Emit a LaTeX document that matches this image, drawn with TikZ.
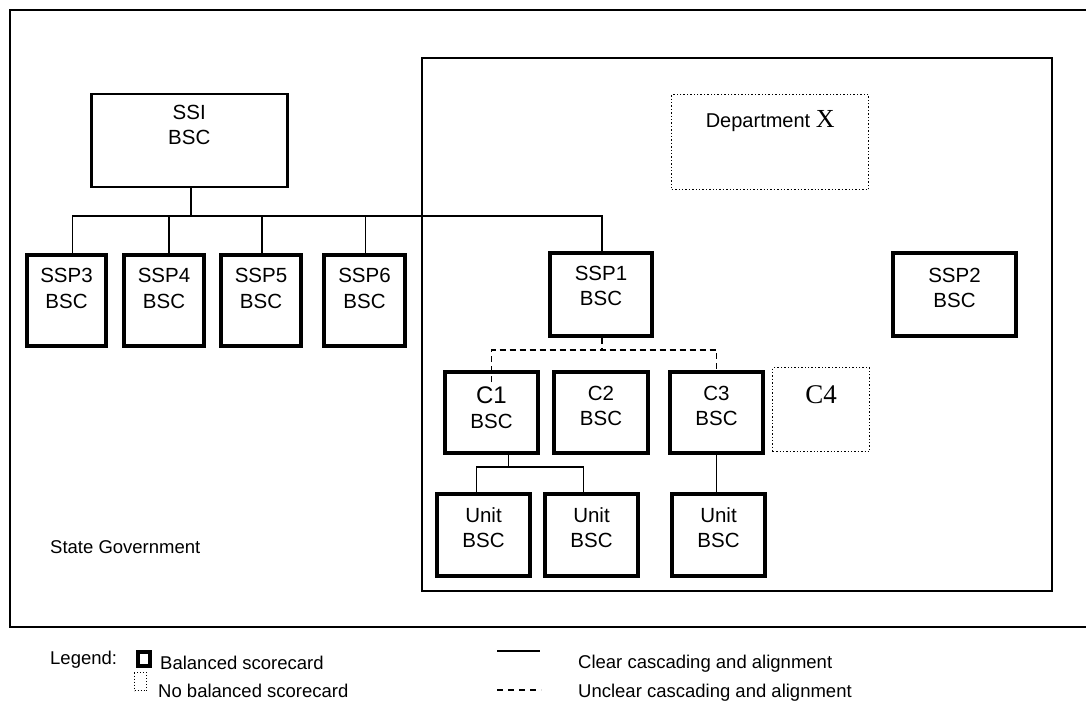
\documentclass[tikz,border=0pt]{standalone}
\usepackage{fontspec}
\setmainfont{Liberation Sans}
\newfontfamily\timesfont{Liberation Serif}
\begin{document}
\begin{tikzpicture}[x=1pt,y=-1pt,
  frame/.style={draw, line width=2pt},
  bsc/.style={draw, line width=4pt, anchor=north west, inner sep=0pt},
  ssibox/.style={draw, line width=2.5pt, anchor=north west, inner sep=0pt},
  nobsc/.style={draw, line width=1.4pt, dotted, anchor=north west, inner sep=0pt},
  conn/.style={line width=1.6pt},
  uconn/.style={line width=1.6pt, dash pattern=on 6pt off 4pt},
  lbl/.style={anchor=base, inner sep=0pt, font=\fontsize{20.5}{24}\selectfont},
  legtxt/.style={anchor=base west, inner sep=0pt, font=\fontsize{18.5}{22}\selectfont},
]
\newcommand\twolines[5][lbl]{%
  \node[#1] (#2-a) at ([yshift=-#5pt]#2.north) {#3};
  \node[lbl] (#2-b) at ([yshift=-#5pt-25pt]#2.north) {#4};}
\useasboundingbox (0,0) rectangle (1086,711);

% outer and inner frames
\node[frame, anchor=north west, inner sep=0pt, minimum width=1090pt, minimum height=617pt] (state) at (9,9) {};
\node[frame, anchor=north west, inner sep=0pt, minimum width=630pt, minimum height=533pt] (dept) at (421,57) {};

% scorecard boxes
\node[ssibox, minimum width=196pt, minimum height=93pt] (ssi) at (90,93) {};
\node[bsc, minimum width=79pt, minimum height=91pt] (ssp3) at (25,253) {};
\node[bsc, minimum width=80pt, minimum height=91pt] (ssp4) at (122,253) {};
\node[bsc, minimum width=80pt, minimum height=91pt] (ssp5) at (219,253) {};
\node[bsc, minimum width=81pt, minimum height=91pt] (ssp6) at (322,253) {};
\node[bsc, minimum width=102pt, minimum height=83pt] (ssp1) at (548,251) {};
\node[bsc, minimum width=123pt, minimum height=83pt] (ssp2) at (891,251) {};
\node[bsc, minimum width=93pt, minimum height=81pt] (c1) at (443,370) {};
\node[bsc, minimum width=94pt, minimum height=81pt] (c2) at (552,370) {};
\node[bsc, minimum width=93pt, minimum height=81pt] (c3) at (668,370) {};
\node[nobsc, minimum width=97pt, minimum height=84pt] (c4) at (772,367) {};
\node[bsc, minimum width=93pt, minimum height=82pt] (u1) at (435,492) {};
\node[bsc, minimum width=93pt, minimum height=82pt] (u2) at (543,492) {};
\node[bsc, minimum width=93pt, minimum height=82pt] (u3) at (670,492) {};
\node[nobsc, minimum width=197pt, minimum height=95pt] (deptx) at (671,94) {};

% box texts
\twolines{ssi}{SSI}{BSC}{27}
\twolines{ssp3}{SSP3}{BSC}{30}
\twolines{ssp4}{SSP4}{BSC}{30}
\twolines{ssp5}{SSP5}{BSC}{30}
\twolines{ssp6}{SSP6}{BSC}{30}
\twolines{ssp1}{SSP1}{BSC}{29}
\twolines{ssp2}{SSP2}{BSC}{31}
\twolines[lbl,font=\fontsize{24}{28}\selectfont]{c1}{C1}{BSC}{33}
\twolines{c2}{C2}{BSC}{30}
\twolines{c3}{C3}{BSC}{30}
\twolines{u1}{Unit}{BSC}{30}
\twolines{u2}{Unit}{BSC}{30}
\twolines{u3}{Unit}{BSC}{30}
\node[lbl, font=\fontsize{27}{30}\timesfont] (c4-a) at ([yshift=-36pt]c4.north) {C4};
\node[lbl, font=\fontsize{20}{24}\selectfont] (deptx-a) at ([yshift=-34pt]deptx.north) {Department {\fontsize{26}{30}\timesfont X}};
\node[legtxt] (state-a) at (50,553) {State Government};

% clear cascading from SSI
\coordinate (bus) at (190,216);
\draw[conn] ([xshift=2pt]ssi.south) -- ([xshift=2pt]ssi.south |- bus);
\draw[conn] ([xshift=6pt]ssp3.north) |- (bus) -| ([xshift=1pt]ssp1.north);
\draw[conn] ([xshift=5pt]ssp4.north) -- ([xshift=5pt]ssp4.north |- bus);
\draw[conn] ([xshift=1pt]ssp5.north) -- ([xshift=1pt]ssp5.north |- bus);
\draw[conn] ([xshift=1pt]ssp6.north) -- ([xshift=1pt]ssp6.north |- bus);

% unclear cascading from SSP1
\coordinate (dbus) at (600,350);
\draw[uconn] ([xshift=1pt]ssp1.south) -- ([xshift=1pt]ssp1.south |- dbus);
\draw[uconn] ([yshift=-12pt]c1.north) -- (c1.north |- dbus) -- (c3.north |- dbus) -- (c3.north);

% clear cascading to units
\coordinate (ubus) at (507,467);
\draw[conn] ([xshift=17pt]c1.south) -- ([xshift=17pt]c1.south |- ubus);
\draw[conn] ([xshift=-7pt]u1.north) |- (ubus) -| ([xshift=-8pt]u2.north);
\draw[conn] ([xshift=-2pt]u3.north) -- ([xshift=-2pt]u3.north |- c3.south);

% legend
\node[legtxt] (leg) at (50,664) {Legend:};
\node[draw, line width=3.5pt, anchor=north west, inner sep=0pt, minimum width=12pt, minimum height=14pt] (legbsc) at (136,650) {};
\node[draw, line width=1pt, dotted, anchor=north west, inner sep=0pt, minimum width=12pt, minimum height=18pt] (legno) at (134,672) {};
\node[legtxt] (legbsc-t) at (160,669) {Balanced scorecard};
\node[legtxt] (legno-t) at (158,697) {No balanced scorecard};
\coordinate (ls1) at (497,651);
\coordinate (ls2) at (540,651);
\coordinate (lu1) at (497,690);
\coordinate (lu2) at (541,690);
\draw[line width=1.6pt] (ls1) -- (ls2);
\draw[line width=1.2pt, dash pattern=on 6pt off 5pt] (lu1) -- (lu2);
\node[legtxt] (lclear) at (578,668) {Clear cascading and alignment};
\node[legtxt] (lunclear) at (578,697) {Unclear cascading and alignment};
\end{tikzpicture}
\end{document}
